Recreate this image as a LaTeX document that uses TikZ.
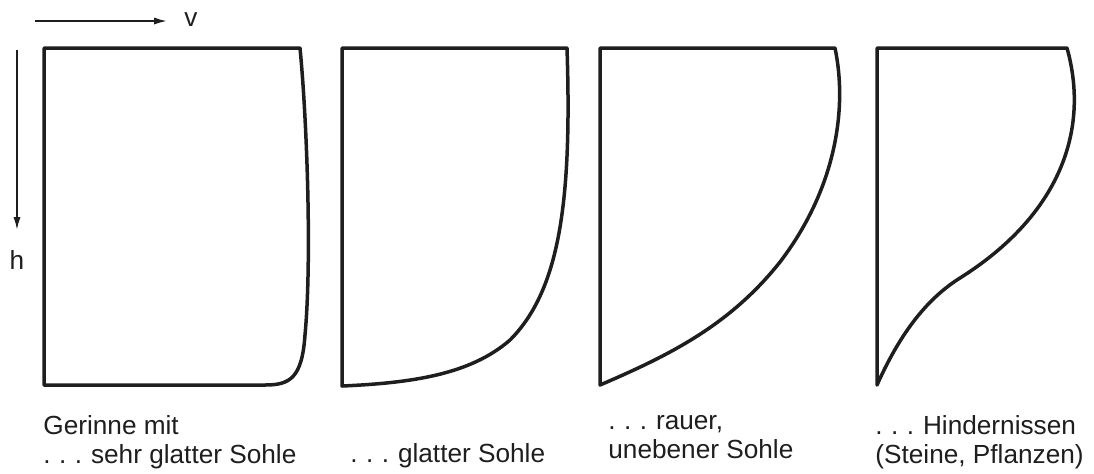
\documentclass[tikz,border=0pt]{standalone}
\usepackage{fontspec}
\setmainfont{Liberation Sans}
\usetikzlibrary{arrows.meta}
\definecolor{ink}{RGB}{30,30,30}
\newcommand{\dreipkt}{.\hspace{4.2pt}.\hspace{4.2pt}.\hspace{4.5pt}}
\tikzset{
  profil/.style={draw=ink,line width=1.75pt,line join=round},
  achse/.style={draw=ink,line width=0.9pt,-{Latex[length=6.5pt,width=3.6pt]}},
  label/.style={text=ink,inner sep=0pt,align=left,font=\fontsize{13.1}{14.6}\selectfont},
}
\begin{document}
\begin{tikzpicture}[x=0.5pt,y=-0.5pt]
\useasboundingbox (0,0) rectangle (1094,473);
% axes
\coordinate (v0) at (35,21);
\coordinate (v1) at (167,21);
\coordinate (h0) at (17,50);
\coordinate (h1) at (17,230);
\draw[achse] (v0) -- (v1);
\draw[achse] (h0) -- (h1);
\node[label,anchor=west] (vlab) at (184,20) {v};
\node[label] (hlab) at (17,260) {h};
% velocity profiles
\draw[profil] (44,48) -- (300,48) .. controls (307,120) and (312,260) .. (305,335)
  .. controls (302,378) and (290,385) .. (265,385) -- (44,385) -- cycle;
\draw[profil] (342,48) -- (567,48) .. controls (572,200) and (560,290) .. (510,340)
  .. controls (470,375) and (410,383) .. (342,386) -- cycle;
\draw[profil] (600,48) -- (835,48) .. controls (848,110) and (835,190) .. (780,262)
  .. controls (730,325) and (670,355) .. (600,385) -- cycle;
\draw[profil] (877,48) -- (1067,48) .. controls (1090,130) and (1060,215) .. (960,278)
  .. controls (920,303) and (895,345) .. (877,385) -- cycle;
% labels
\node[label,anchor=north west] (sehrglatt) at (43,415) {Gerinne mit\\\dreipkt sehr glatter Sohle};
\node[label,anchor=base west] (glatt) at (350,462) {\dreipkt glatter Sohle};
\node[label,anchor=north west] (rau) at (608,415) {\dreipkt rauer,\\unebener Sohle};
\node[label,anchor=north west] (hindernis) at (875,415) {\dreipkt Hindernissen\\(Steine, Pflanzen)};
\end{tikzpicture}
\end{document}
